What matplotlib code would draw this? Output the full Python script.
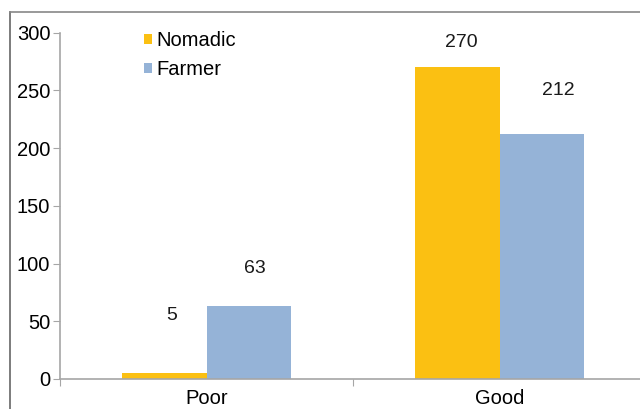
import matplotlib
matplotlib.use("Agg")
import matplotlib.pyplot as plt
from matplotlib.lines import Line2D
import numpy as np

plt.rcParams['font.family'] = ['Liberation Sans', 'DejaVu Sans']

categories = ["Poor", "Good"]
nomadic = [5, 270]
farmer = [63, 212]

# label nudges in pixels (dx, dy) - the original chart places them unevenly
nomadic_off = [(7.5, 58), (4, 24.5)]
farmer_off = [(6, 38), (17, 43.5)]

c_nomadic = '#FBC012'
c_farmer = '#95B3D7'
axis_col = '#A6A6A6'

fig = plt.figure(figsize=(6.4, 4.09), dpi=100)
ax = fig.add_axes([60 / 640, 1 - 379 / 409, 586 / 640, 346.5 / 409])

x = np.arange(len(categories)) + 0.5
w = 0.287
b1 = ax.bar(x - w / 2, nomadic, w, color=c_nomadic, label='Nomadic')
b2 = ax.bar(x + w / 2, farmer, w, color=c_farmer, label='Farmer')

for xi, v, (dx, dy) in zip(x - w / 2, nomadic, nomadic_off):
    ax.annotate(str(v), (xi, v), xytext=(dx, dy), textcoords='offset pixels',
                ha='center', va='center', fontsize=14, color='#1a1a1a')
for xi, v, (dx, dy) in zip(x + w / 2, farmer, farmer_off):
    ax.annotate(str(v), (xi, v), xytext=(dx, dy), textcoords='offset pixels',
                ha='center', va='center', fontsize=14, color='#1a1a1a')

ax.set_xlim(0, 2)
ax.set_ylim(0, 300)
ax.set_yticks(np.arange(0, 301, 50))
ax.set_xticks([0, 1, 2])
ax.set_xticklabels([])
ax.set_xticks(x, minor=True)
ax.set_xticklabels(categories, minor=True)
ax.tick_params(axis='x', which='major', length=5, color=axis_col)
ax.tick_params(axis='x', which='minor', length=0, pad=7, labelsize=14.5)
ax.tick_params(axis='y', length=5, color=axis_col, pad=2, labelsize=14.5)

for s in ['top', 'right']:
    ax.spines[s].set_visible(False)
for s in ['left', 'bottom']:
    ax.spines[s].set_color(axis_col)
    ax.spines[s].set_linewidth(1.2)

leg = ax.legend(loc='upper left', bbox_to_anchor=(144 / 640, 1 - 31 / 409),
                bbox_transform=fig.transFigure, frameon=False, fontsize=14.5,
                handlelength=0.4, handleheight=0.4, handletextpad=0.2,
                labelspacing=0.5, borderpad=0, borderaxespad=0)

# outer frame of the original image (only left and top edges visible)
fx = 9.5 / 640
fy = 1 - 11.5 / 409
fig.add_artist(Line2D([fx, fx], [-0.1, fy], color='#666666', lw=1.2))
fig.add_artist(Line2D([fx, 1.1], [fy, fy], color='#888888', lw=1.2))

fig.savefig('out.png', dpi=100)
